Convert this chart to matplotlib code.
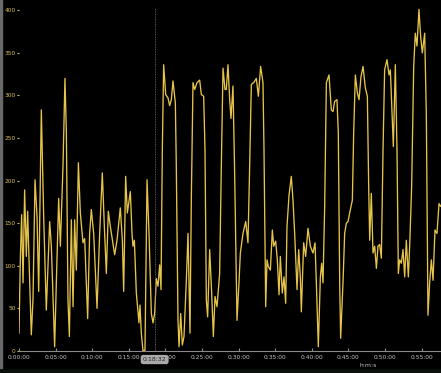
import matplotlib
matplotlib.use("Agg")
import matplotlib.pyplot as plt
from matplotlib.ticker import FuncFormatter, MultipleLocator

# elapsed time in minutes
minutes = [
    0.00, 0.18, 0.36, 0.55, 0.77, 1.00, 1.18, 1.37, 1.68, 1.91,
    2.19, 2.46, 2.69, 3.05, 3.37, 3.73, 4.19, 4.42, 4.87, 5.10,
    5.42, 5.65, 6.01, 6.28, 6.47, 6.69, 6.88, 7.15, 7.38, 7.60,
    7.83, 8.11, 8.38, 8.74, 8.97, 9.38, 9.65, 9.88, 10.20, 10.66,
    11.02, 11.38, 11.66, 11.93, 12.20, 12.48, 13.07, 13.39, 13.84, 14.12,
    14.30, 14.57, 14.80, 15.21, 15.44, 15.57, 15.76, 16.03, 16.39, 16.53,
    16.71, 16.94, 17.21, 17.49, 17.76, 18.08, 18.31, 18.53, 18.76, 18.99,
    19.22, 19.40, 19.58, 19.76, 20.04, 20.36, 20.58, 20.81, 21.04, 21.36,
    21.49, 21.72, 21.86, 22.09, 22.31, 22.54, 22.86, 23.09, 23.36, 23.54,
    23.77, 24.00, 24.32, 24.68, 24.91, 25.23, 25.41, 25.59, 25.77, 26.05,
    26.32, 26.55, 26.78, 27.05, 27.41, 27.64, 27.87, 28.14, 28.32, 28.55,
    28.78, 28.96, 29.23, 29.46, 29.78, 30.05, 30.24, 30.60, 30.97, 31.28,
    31.51, 31.74, 32.06, 32.42, 32.70, 33.01, 33.33, 33.47, 33.70, 33.88,
    34.06, 34.34, 34.61, 34.79, 35.06, 35.29, 35.52, 35.70, 35.97, 36.20,
    36.43, 36.61, 36.89, 37.20, 37.43, 37.66, 37.98, 38.21, 38.43, 38.57,
    38.89, 39.16, 39.48, 39.80, 40.16, 40.44, 40.62, 40.89, 41.17, 41.35,
    41.53, 41.76, 41.99, 42.35, 42.67, 42.90, 43.12, 43.44, 43.62, 43.81,
    43.94, 44.26, 44.49, 44.72, 44.95, 45.17, 45.54, 45.72, 45.95, 46.22,
    46.45, 46.72, 47.00, 47.31, 47.59, 47.77, 47.91, 48.13, 48.36, 48.59,
    48.82, 49.04, 49.27, 49.50, 49.73, 49.95, 50.27, 50.55, 50.73, 50.96,
    51.14, 51.41, 51.64, 51.82, 52.00, 52.23, 52.46, 52.69, 52.91, 53.19,
    53.37, 53.64, 53.92, 54.14, 54.37, 54.64, 54.87, 55.10, 55.42, 55.65,
    55.87, 56.10, 56.33, 56.56, 56.83, 57.10, 57.38, 57.60,
]
values = [
    21, 107, 160, 80, 189, 111, 164, 107, 19, 60,
    201, 158, 70, 283, 158, 48, 152, 123, 5, 80,
    179, 123, 217, 320, 256, 60, 17, 154, 52, 154,
    95, 221, 162, 127, 132, 38, 138, 166, 138, 50,
    138, 209, 146, 91, 164, 146, 113, 130, 168, 130,
    70, 205, 162, 187, 138, 123, 130, 68, 33, 54,
    21, 0, 1, 201, 138, 44, 33, 44, 85, 76,
    101, 72, 236, 336, 301, 297, 288, 295, 317, 291,
    217, 36, 5, 44, 7, 17, 83, 138, 21, 177,
    315, 307, 315, 318, 301, 299, 236, 60, 40, 119,
    68, 17, 64, 52, 91, 217, 332, 307, 307, 336,
    295, 273, 311, 209, 36, 80, 115, 138, 152, 127,
    217, 313, 315, 320, 299, 334, 315, 236, 52, 107,
    99, 95, 142, 123, 129, 107, 66, 111, 68, 87,
    56, 146, 183, 205, 177, 138, 72, 119, 87, 46,
    127, 111, 144, 123, 115, 127, 80, 5, 87, 103,
    80, 170, 315, 324, 283, 281, 293, 295, 256, 80,
    15, 80, 138, 150, 152, 162, 177, 256, 324, 303,
    295, 322, 334, 309, 299, 193, 130, 185, 115, 123,
    97, 123, 125, 109, 236, 330, 342, 324, 330, 279,
    240, 336, 236, 91, 107, 103, 119, 87, 130, 87,
    123, 193, 334, 373, 358, 401, 369, 350, 373, 275,
    42, 80, 107, 83, 142, 138, 173, 170,
]
y_ticks = [0, 50, 100, 150, 200, 250, 300, 350, 400]
hover_minute = 18 + 32 / 60.0
hover_label = "0:18:32"

LINE = "#e6c44a"
YTXT = "#d9be55"
XTXT = "#c4c4c4"
AXIS = "#8a8a8a"


def hms(x, pos=None):
    s = int(round(x * 60))
    return f"{s // 3600}:{(s % 3600) // 60:02d}:{s % 60:02d}"


fig = plt.figure(figsize=(4.41, 3.73), dpi=100, facecolor="#0b100c")
ax = fig.add_axes([19 / 441, 22 / 373, 422 / 441, 351 / 373])
ax.set_facecolor("black")
# black panel behind everything except a thin strip at the bottom
fig.patches.append(plt.Rectangle((0, 5 / 373), 1, 368 / 373, transform=fig.transFigure,
                                 color="black", zorder=-10))
fig.patches.append(plt.Rectangle((0, 5 / 373), 1.5 / 441, 368 / 373, transform=fig.transFigure,
                                 color="#6a6a6a", zorder=-5))

ax.plot(minutes, values, color=LINE, linewidth=0.95, solid_joinstyle="round")

ax.set_xlim(0, 57.65)
ax.set_ylim(0, 412)

for side in ["top", "right", "left"]:
    ax.spines[side].set_visible(False)
ax.spines["bottom"].set_color(AXIS)
ax.spines["bottom"].set_linewidth(0.8)

ax.xaxis.set_major_locator(MultipleLocator(5))
ax.xaxis.set_major_formatter(FuncFormatter(hms))
ax.set_yticks(y_ticks)
ax.tick_params(axis="x", colors=AXIS, labelcolor=XTXT, labelsize=4.2, length=2,
               direction="in", pad=3)
ax.tick_params(axis="y", colors=YTXT, labelcolor=YTXT, labelsize=4.2, length=1.5,
               pad=0.8)
ax.set_xlabel("h:m:s", color=XTXT, fontsize=4.4, labelpad=0)
ax.xaxis.set_label_coords(0.827, -0.034)

# hover crosshair and time badge (sits on top of the 0:20:00 label, as in the source)
ax.plot([hover_minute, hover_minute], [0, 403], color="#777777", linewidth=0.6,
        linestyle=(0, (1, 1)))
ax.text(hover_minute, -10, hover_label, ha="center", va="center", fontsize=4.4,
        color="#222222", clip_on=False, zorder=10,
        bbox=dict(boxstyle="round,pad=0.35,rounding_size=0.4", fc="#a9a9a9", ec="none"))

fig.savefig("out.png", dpi=100, facecolor=fig.get_facecolor())
